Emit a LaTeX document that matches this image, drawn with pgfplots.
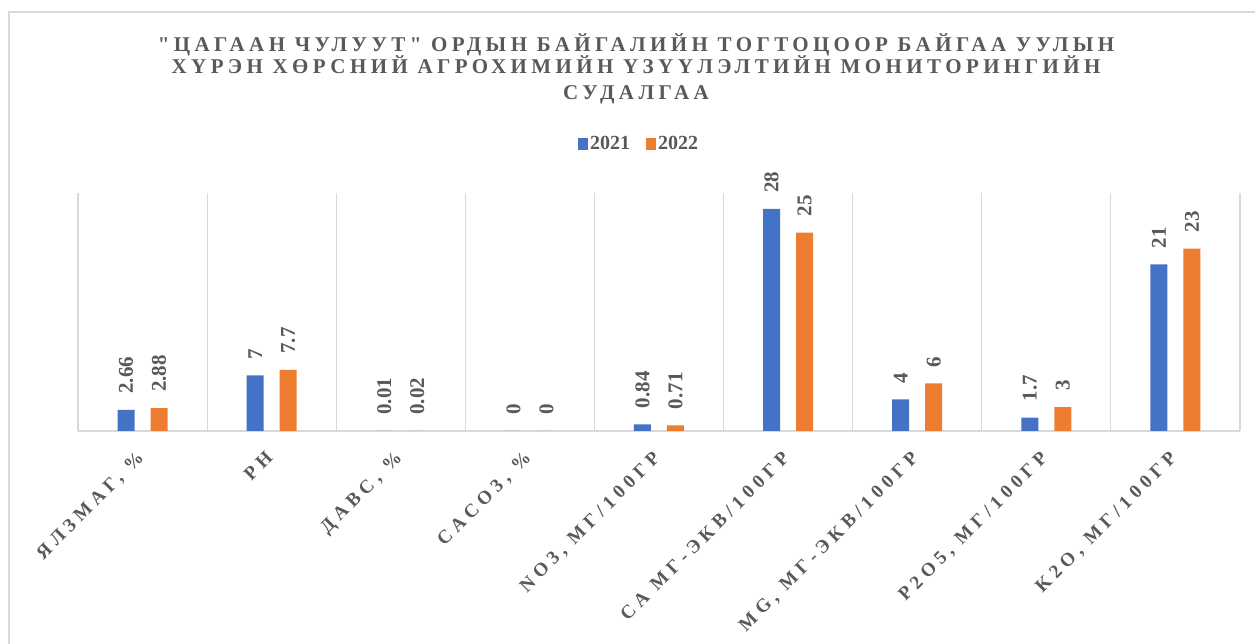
\documentclass[border=0pt]{standalone}
\usepackage{fontspec}
\setmainfont{Liberation Serif}
\newfontfamily\titlefont[LetterSpace=21]{Liberation Serif}
\newfontfamily\tickfont[LetterSpace=26]{Liberation Serif}
\usepackage{pgfplots}
\pgfplotsset{compat=1.18}
\definecolor{bl}{HTML}{4472C4}
\definecolor{org}{HTML}{ED7D31}
\definecolor{txt}{HTML}{595959}
\definecolor{grd}{HTML}{D9D9D9}
\begin{document}
\begin{tikzpicture}[x=1pt,y=1pt]
\useasboundingbox (0,0) rectangle (1255,644);
\fill[white] (0,0) rectangle (1255,644);
\draw[grd, line width=1.5pt] (9,-5) -- (9,632) -- (1260,632);
\begin{axis}[
  at={(78pt,213pt)}, anchor=south west,
  scale only axis, width=1162pt, height=238pt,
  ybar=16pt, bar width=17pt,
  xmin=-0.5, xmax=8.5, ymin=0, ymax=30,
  axis x line*=bottom, axis y line=none,
  x axis line style={grd, line width=1.5pt},
  ytick=\empty,
  xtick={0,...,8},
  xticklabels={{ЯЛЗМАГ, \%},{PH},{ДАВС, \%},{CACO3, \%},{NO3, МГ/100ГР},{CA МГ-ЭКВ/100ГР},{MG, МГ-ЭКВ/100ГР},{P2O5, МГ/100ГР},{K2O, МГ/100ГР}},
  xticklabel style={xshift=-7pt, yshift=-19pt, rotate=45, anchor=north east, inner sep=0pt, font=\tickfont\bfseries\fontsize{19}{19}\selectfont, text=txt},
  major tick length=0pt, minor tick length=0pt,
  minor xtick={-0.5,0.5,...,8.5},
  xminorgrids,
  minor grid style={grd, line width=1.2pt},
  /pgf/number format/assume math mode=true,
  /pgf/number format/fixed,
  /pgf/number format/precision=2,
  nodes near coords,
  nodes near coords align={horizontal},
  every node near coord/.append style={rotate=90, anchor=west, inner xsep=16pt, inner ysep=0pt, font=\bfseries\fontsize{21}{21}\selectfont, text=txt},
  legend style={at={(0.483,1.206)}, anchor=center, draw=none, fill=none, legend columns=2,
    font=\bfseries\fontsize{20}{20}\selectfont, text=txt,
    /tikz/every even column/.append style={column sep=14pt}},
  legend image code/.code={\fill[#1] (-2pt,-6pt) rectangle (8pt,6pt);},
  clip=false,
]
\addplot[fill=bl, draw=none] coordinates {(0,2.66) (1,7) (2,0.01) (3,0) (4,0.84) (5,28) (6,4) (7,1.7) (8,21)};
\addplot[fill=org, draw=none] coordinates {(0,2.88) (1,7.7) (2,0.02) (3,0) (4,0.71) (5,25) (6,6) (7,3) (8,23)};
\legend{2021,2022}
\end{axis}
\begin{scope}[font=\titlefont\bfseries\fontsize{21}{21}\selectfont, text=txt]
\node[anchor=base] at (636,592) {"ЦАГААН ЧУЛУУТ" ОРДЫН БАЙГАЛИЙН ТОГТОЦООР БАЙГАА УУЛЫН};
\node[anchor=base] at (636,570) {ХҮРЭН ХӨРСНИЙ АГРОХИМИЙН ҮЗҮҮЛЭЛТИЙН МОНИТОРИНГИЙН};
\node[anchor=base] at (636,544) {СУДАЛГАА};
\end{scope}
\end{tikzpicture}
\end{document}
